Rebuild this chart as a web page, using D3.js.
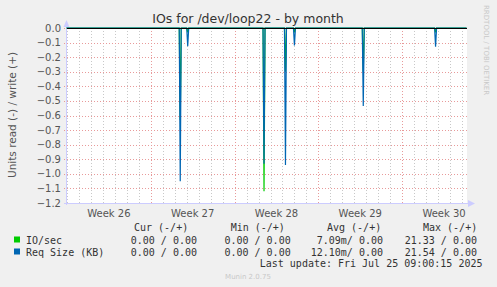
<!DOCTYPE html>
<html>
<head>
<meta charset="utf-8">
<script src="https://cdn.jsdelivr.net/npm/d3@7"></script>
<style>
  body { margin: 0; background: #f0f0f0; }
  svg { display: block; }
  text { font-family: 'DejaVu Sans', sans-serif; }
  .mono { font-family: 'DejaVu Sans Mono', monospace; font-size: 10px; fill: #333; white-space: pre; }
</style>
</head>
<body>
<div class="chart"></div>
<script>
// spikes (local time), values are "read" so plotted negative
const spikeTimes = ['2025-07-01T11:00', '2025-07-02T02:00', '2025-07-08T11:00', '2025-07-10T06:00',
                    '2025-07-11T00:00', '2025-07-16T18:00', '2025-07-22T19:00'];
const ioSec   = [-0.63, -0.03, -1.12, -0.30, -0.03, -0.30, -0.03];
const reqSize = [-1.05, -0.125, -0.93, -0.94, -0.12, -0.535, -0.128];

const yTicks = [0, -0.1, -0.2, -0.3, -0.4, -0.5, -0.6, -0.7, -0.8, -0.9, -1.0, -1.1, -1.2];
const weekLabels = ['Week 26', 'Week 27', 'Week 28', 'Week 29', 'Week 30'];
const weekStarts = ['2025-06-22', '2025-06-29', '2025-07-06', '2025-07-13', '2025-07-20'];

const legendHead = ['Cur (-/+)', 'Min (-/+)', 'Avg (-/+)', 'Max (-/+)'];
const seriesNames = ['IO/sec', 'Req Size (KB)'];
const seriesColors = ['#00cc00', '#0066b3'];
const legendRows = [
  ['0.00 / 0.00', '0.00 / 0.00', '7.09m/ 0.00', '21.33 / 0.00'],
  ['0.00 / 0.00', '0.00 / 0.00', '12.10m/ 0.00', '21.54 / 0.00']
];

const w = 497, h = 287;
const margin = { top: 28, left: 67, width: 400, height: 175 };
const endTime = new Date('2025-07-25T09:00:15');
const startTime = new Date(endTime.getTime() - 33.42 * 86400000);

const xScale = d3.scaleTime()
                 .domain([startTime, endTime])
                 .range([margin.left - 0.5, margin.left + margin.width - 0.5]);
const yScale = d3.scaleLinear()
                 .domain([0, -1.2])
                 .range([margin.top, margin.top + margin.height]);

const crisp = v => Math.round(v) + 0.5;

const svg = d3.select('.chart')
              .append('svg')
              .attr('width', w)
              .attr('height', h);

// plot area
svg.append('rect')
   .attr('x', margin.left)
   .attr('y', margin.top)
   .attr('width', margin.width)
   .attr('height', margin.height)
   .attr('fill', '#fff');

// minor grid: every day
const days = d3.timeDay.range(d3.timeDay.ceil(startTime), endTime);
svg.selectAll('line.minor')
   .data(days)
   .enter()
   .append('line')
   .attr('x1', d => crisp(xScale(d)))
   .attr('x2', d => crisp(xScale(d)))
   .attr('y1', margin.top)
   .attr('y2', margin.top + margin.height + 2)
   .attr('stroke', '#c8c8c8')
   .attr('stroke-dasharray', '1,2');

// major grid: week starts (skip one sitting on the axis)
const majors = weekStarts.map(s => new Date(s + 'T00:00'))
                         .filter(d => xScale(d) > margin.left + 2);
svg.selectAll('line.major')
   .data(majors)
   .enter()
   .append('line')
   .attr('x1', d => crisp(xScale(d)))
   .attr('x2', d => crisp(xScale(d)))
   .attr('y1', margin.top)
   .attr('y2', margin.top + margin.height + 2)
   .attr('stroke', '#e89a9a')
   .attr('stroke-dasharray', '1,2');

// horizontal grid
svg.selectAll('line.hgrid')
   .data(yTicks)
   .enter()
   .append('line')
   .attr('x1', margin.left - 3)
   .attr('x2', margin.left + margin.width)
   .attr('y1', d => crisp(yScale(d)))
   .attr('y2', d => crisp(yScale(d)))
   .attr('stroke', '#e89a9a')
   .attr('stroke-dasharray', '1,2');

// y tick labels
svg.selectAll('text.ytick')
   .data(yTicks)
   .enter()
   .append('text')
   .attr('x', 61)
   .attr('y', d => yScale(d) + 3.5)
   .attr('text-anchor', 'end')
   .attr('font-size', '10px')
   .attr('fill', '#555')
   .text(d => d3.format('.1f')(d));

// x labels at middle of each week
svg.selectAll('text.xtick')
   .data(weekLabels)
   .enter()
   .append('text')
   .attr('x', (d, i) => xScale(d3.timeHour.offset(new Date(weekStarts[i] + 'T00:00'), 84)))
   .attr('y', 217)
   .attr('text-anchor', 'middle')
   .attr('font-size', '10px')
   .attr('fill', '#555')
   .text(d => d);

// axes (light blue with arrows)
svg.append('line')
   .attr('x1', margin.left - 0.5).attr('x2', margin.left - 0.5)
   .attr('y1', 22).attr('y2', margin.top + margin.height + 2)
   .attr('stroke', '#ccccff');
svg.append('line')
   .attr('x1', margin.left - 3).attr('x2', margin.left + margin.width + 4)
   .attr('y1', margin.top + margin.height + 0.5).attr('y2', margin.top + margin.height + 0.5)
   .attr('stroke', '#ccccff');
svg.append('path')
   .attr('d', `M${margin.left - 3.5},27 L${margin.left - 0.5},20 L${margin.left + 2.5},27 Z`)
   .attr('fill', '#ccccff');
svg.append('path')
   .attr('d', `M${margin.left + margin.width + 1},200 L${margin.left + margin.width + 8},203.5 L${margin.left + margin.width + 1},207 Z`)
   .attr('fill', '#ccccff');

// series lines built from the spike list
function points(values) {
  const pts = [[startTime, 0]];
  spikeTimes.forEach((t, i) => {
    const d = new Date(t);
    pts.push([d3.timeHour.offset(d, -2), 0]);
    pts.push([d, values[i]]);
    pts.push([d3.timeHour.offset(d, 2), 0]);
  });
  pts.push([endTime, 0]);
  return pts;
}

const line = d3.line()
               .x(d => xScale(d[0]))
               .y(d => yScale(d[1]));

[ioSec, reqSize].forEach((vals, i) => {
  svg.append('path')
     .attr('d', line(points(vals)))
     .attr('fill', 'none')
     .attr('stroke', seriesColors[i])
     .attr('stroke-width', 1.2);
});

// zero line
svg.append('line')
   .attr('x1', margin.left).attr('x2', margin.left + margin.width)
   .attr('y1', crisp(yScale(0))).attr('y2', crisp(yScale(0)))
   .attr('stroke', '#000');

// title
svg.append('text')
   .attr('x', 248)
   .attr('y', 23)
   .attr('text-anchor', 'middle')
   .attr('font-size', '12.5px')
   .attr('fill', '#333')
   .text('IOs for /dev/loop22 - by month');

// y axis title
svg.append('text')
   .attr('transform', 'translate(16, 115) rotate(-90)')
   .attr('text-anchor', 'middle')
   .attr('font-size', '10.5px')
   .attr('fill', '#555')
   .text('Units read (-) / write (+)');

// rrdtool watermark
svg.append('text')
   .attr('transform', 'translate(484, 5) rotate(90)')
   .attr('text-anchor', 'start')
   .attr('font-size', '7px')
   .attr('fill', '#c8c8c8')
   .text('RRDTOOL / TOBI OETIKER');

// legend
const headX = [134, 230.7, 327, 423];
svg.selectAll('text.lhead')
   .data(legendHead)
   .enter()
   .append('text')
   .attr('class', 'mono')
   .attr('x', (d, i) => headX[i])
   .attr('y', 230.5)
   .text(d => d);

const valEnd = [197, 290.7, 383, 477];
seriesNames.forEach((name, r) => {
  const y = 243.5 + r * 12;
  svg.append('rect')
     .attr('x', 14).attr('y', y - 7)
     .attr('width', 6).attr('height', 6)
     .attr('fill', seriesColors[r]);
  svg.append('text')
     .attr('class', 'mono')
     .attr('x', 26).attr('y', y)
     .text(name);
  svg.selectAll(null)
     .data(legendRows[r])
     .enter()
     .append('text')
     .attr('class', 'mono')
     .attr('x', (d, i) => valEnd[i])
     .attr('y', y)
     .attr('text-anchor', 'end')
     .text(d => d);
});

svg.append('text')
   .attr('class', 'mono')
   .attr('x', 482.5)
   .attr('y', 267)
   .attr('text-anchor', 'end')
   .text('Last update: Fri Jul 25 09:00:15 2025');

svg.append('text')
   .attr('x', 248)
   .attr('y', 279)
   .attr('text-anchor', 'middle')
   .attr('font-size', '7px')
   .attr('fill', '#c8c8c8')
   .text('Munin 2.0.75');
</script>
</body>
</html>
